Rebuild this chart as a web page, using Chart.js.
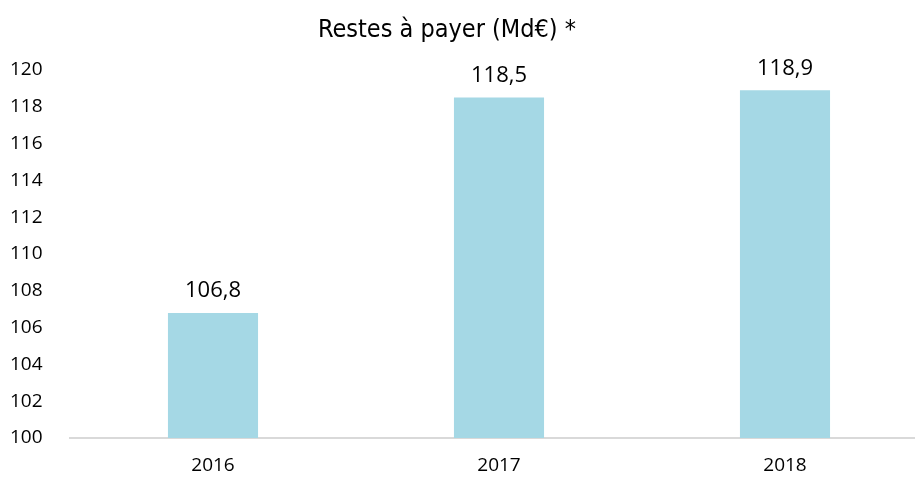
<!DOCTYPE html>
<html>
<head>
<meta charset="utf-8">
<script src="https://cdn.jsdelivr.net/npm/chart.js@4"></script>
<style>
  html, body { margin: 0; padding: 0; background: #fff; overflow: hidden; }
  /* the plot area of the original runs a little past the right edge */
  #wrap { width: 931px; height: 480px; }
</style>
</head>
<body>
<div id="wrap"><canvas id="chart"></canvas></div>
<script>
// data
var years = ['2016', '2017', '2018'];
var restesAPayer = [106.8, 118.5, 118.9];
var yMin = 100, yMax = 120, yStep = 2;
var chartTitle = 'Restes à payer (Md€) *';

var barColor = '#a5d8e5';
var textColor = '#000000';

// title drawn by hand so it can sit where the original had it
var titleText = {
  id: 'titleText',
  afterDraw(chart) {
    var ctx = chart.ctx;
    ctx.save();
    ctx.font = '25px "Liberation Sans Narrow", "DejaVu Sans Condensed", sans-serif';
    ctx.fillStyle = textColor;
    ctx.textAlign = 'center';
    ctx.textBaseline = 'alphabetic';
    ctx.fillText(chartTitle, 447, 37);
    ctx.restore();
  }
};

// draws the value above each bar, French decimal comma
var valueLabels = {
  id: 'valueLabels',
  afterDatasetsDraw(chart) {
    var ctx = chart.ctx;
    var meta = chart.getDatasetMeta(0);
    ctx.save();
    ctx.font = '22px "Open Sans", sans-serif';
    ctx.fillStyle = textColor;
    ctx.textAlign = 'center';
    ctx.textBaseline = 'bottom';
    meta.data.forEach(function (bar, i) {
      var txt = restesAPayer[i].toFixed(1).replace('.', ',');
      ctx.fillText(txt, bar.x, bar.y - 11);
    });
    ctx.restore();
  }
};

var ctx = document.getElementById('chart').getContext('2d');
new Chart(ctx, {
  type: 'bar',
  data: {
    labels: years,
    datasets: [{
      data: restesAPayer,
      backgroundColor: barColor,
      borderWidth: 0,
      barPercentage: 0.63,
      categoryPercentage: 0.5
    }]
  },
  options: {
    responsive: true,
    maintainAspectRatio: false,
    animation: false,
    layout: { padding: { left: 10, right: 3, top: 70, bottom: 0 } },
    plugins: {
      legend: { display: false },
      tooltip: { enabled: false },
      title: { display: false }
    },
    scales: {
      x: {
        grid: { display: false, drawTicks: false },
        border: { display: true, color: '#d9d9d9', width: 2 },
        ticks: { color: textColor, font: { family: '"Open Sans", sans-serif', size: 19 }, padding: 16 },
        afterFit: function (scale) { scale.height = 42; }
      },
      y: {
        min: yMin,
        max: yMax,
        grid: { display: false, drawTicks: false },
        border: { display: false },
        ticks: {
          stepSize: yStep,
          color: textColor,
          crossAlign: 'far',
          padding: 6,
          font: { family: '"Open Sans", sans-serif', size: 19 }
        },
        afterFit: function (scale) { scale.width = 60; }
      }
    }
  },
  plugins: [valueLabels, titleText]
});
</script>
</body>
</html>
